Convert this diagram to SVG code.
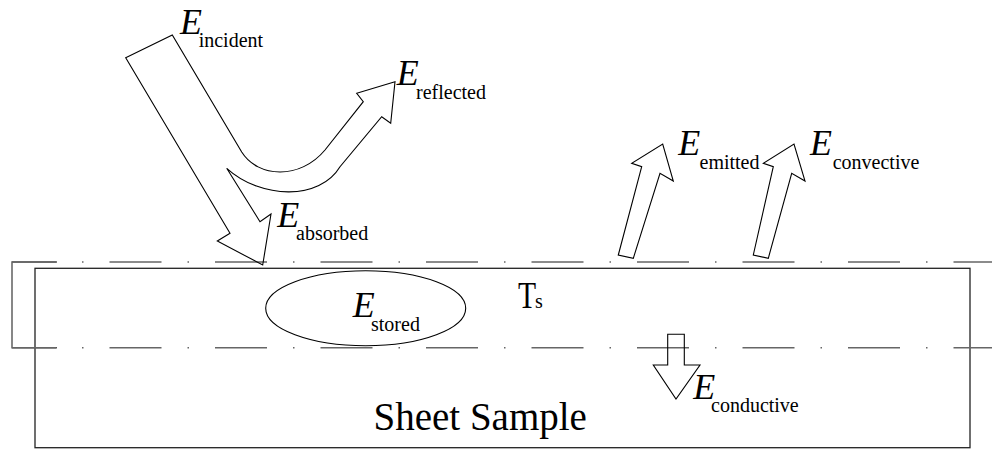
<svg xmlns="http://www.w3.org/2000/svg" width="992" height="449" viewBox="0 0 992 449">
<style>
.bg{fill:#ffffff}
.ol{fill:none;stroke:#000;stroke-width:1.1;stroke-linejoin:miter}
.box{fill:none;stroke:#222;stroke-width:1.3}
.dash{fill:none;stroke:#666;stroke-width:1.5;stroke-dasharray:52 26 1.5 26;stroke-dashoffset:8}
.brk{fill:none;stroke:#555;stroke-width:1.4}
text{font-family:'Liberation Serif','Times New Roman','DejaVu Serif',serif;fill:#000}
.E{font-style:italic;font-size:36px}
.sub{font-size:20px}
.big{font-size:39px}
</style>
<rect class="bg" x="0" y="0" width="992" height="449"/>
<g id="sheet">
  <rect class="box" x="35" y="268.3" width="935" height="179.4"/>
  <text class="big" x="373.5" y="430" font-family="Liberation Serif, serif">Sheet Sample</text>
</g>
<g id="surface-lines">
  <path class="brk" d="M57 262 H12 V347.7 H57"/>
  <line class="dash" x1="12" y1="262" x2="992" y2="262"/>
  <line class="dash" x1="12" y1="347.7" x2="992" y2="347.7"/>
</g>
<g id="temperature">
  <text class="big" transform="translate(518.5,308.3) scale(0.8,1)" x="-0.5" y="0" style="font-size:37px">T</text>
  <text class="sub" x="535" y="308.3">s</text>
</g>
<g id="stored">
  <ellipse class="ol" cx="365.7" cy="308.2" rx="100" ry="37.5"/>
  <text class="E" x="352.7" y="317.3">E</text>
  <text class="sub" x="371" y="331">stored</text>
</g>
<g id="connectors">
  <g id="incident-reflected-absorbed">
    <path class="ol" d="M125.7 57.7 L172.3 35 L241.7 152 C258 178 300 180 325 150 L363.3 101.7 L356.7 93.3 L395 81.7 L390.7 123.3 L381.7 116.7 L340 166.7 C320 200 262 200 226.7 168.3 L260 221.7 L271 214 L262.7 265 L217.3 241 L230 233.3 Z"/>
  </g>
  <g id="emitted-arrow">
    <path class="ol" d="M618.3 255 L641.7 166.7 L631.7 163.3 L662.7 144 L673.3 181 L660 173.3 L633.3 258.3 Z"/>
  </g>
  <g id="convective-arrow">
    <path class="ol" d="M753.3 255 L773.3 166.7 L763.3 163.3 L794 144 L805 181 L791.7 173.3 L768.3 258.3 Z"/>
  </g>
  <g id="conductive-arrow">
    <path class="ol" d="M667.7 334.3 H684.3 V365 H700 L676 399 L653.3 365 H667.7 Z"/>
  </g>
</g>
<g id="incident">
  <text class="E" x="180" y="34.3">E</text>
  <text class="sub" x="198.7" y="46.7">incident</text>
</g>
<g id="reflected">
  <text class="E" x="396.7" y="85">E</text>
  <text class="sub" x="416" y="99.3">reflected</text>
</g>
<g id="absorbed">
  <text class="E" x="277.3" y="226.7">E</text>
  <text class="sub" x="296" y="240">absorbed</text>
</g>
<g id="emitted">
  <text class="E" x="678.3" y="155">E</text>
  <text class="sub" x="699.5" y="169">emitted</text>
</g>
<g id="convective">
  <text class="E" x="810" y="155">E</text>
  <text class="sub" x="832.7" y="169">convective</text>
</g>
<g id="conductive">
  <text class="E" x="693.3" y="399.3">E</text>
  <text class="sub" x="711" y="411.7">conductive</text>
</g>
</svg>
